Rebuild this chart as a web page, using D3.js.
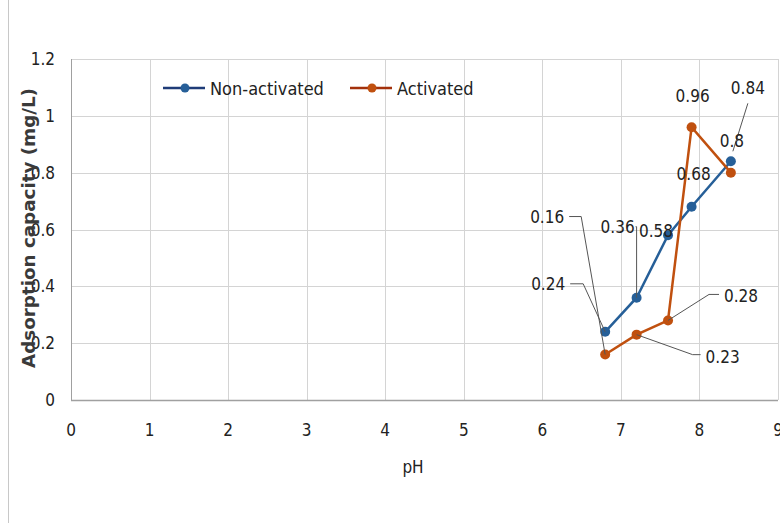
<!DOCTYPE html>
<html>
<head>
<meta charset="UTF-8">
<script src="https://cdn.jsdelivr.net/npm/d3@7"></script>
<style>
  body { margin: 0; background: #fff; }
  text { font-family: "DejaVu Sans Condensed", "DejaVu Sans", sans-serif; fill: #222; }
</style>
</head>
<body>
<script>
// pH values and adsorption capacities
var phValues = [6.8, 7.2, 7.6, 7.9, 8.4];
var nonActivated = [0.24, 0.36, 0.58, 0.68, 0.84];
var activated = [0.16, 0.23, 0.28, 0.96, 0.80];
var xTicks = [0, 1, 2, 3, 4, 5, 6, 7, 8, 9];
var yTicks = [0, 0.2, 0.4, 0.6, 0.8, 1, 1.2];

var width = 780, height = 523;
var svg = d3.select("body").append("svg")
    .attr("width", width).attr("height", height);

var x = d3.scaleLinear().domain([0, 9]).range([71, 778]);
var y = d3.scaleLinear().domain([0, 1.2]).range([400, 59]);

// outer frame line on the left
svg.append("line").attr("x1", 8.5).attr("x2", 8.5).attr("y1", 0).attr("y2", height)
    .attr("stroke", "#c8c8c8");

// grid
svg.selectAll(".gx").data(xTicks).enter().append("line")
    .attr("x1", function(d){ return Math.round(x(d)) + 0.5; })
    .attr("x2", function(d){ return Math.round(x(d)) + 0.5; })
    .attr("y1", y(1.2)).attr("y2", y(0))
    .attr("stroke", "#d4d4d4");
svg.selectAll(".gy").data(yTicks).enter().append("line")
    .attr("x1", x(0)).attr("x2", x(9))
    .attr("y1", function(d){ return Math.round(y(d)) + 0.5; })
    .attr("y2", function(d){ return Math.round(y(d)) + 0.5; })
    .attr("stroke", "#d4d4d4");

// axis lines
svg.append("line").attr("x1", x(0)).attr("x2", x(9)).attr("y1", y(0) + 0.5).attr("y2", y(0) + 0.5)
    .attr("stroke", "#a0a0a0").attr("stroke-width", 1.5);
svg.append("line").attr("x1", x(0) + 0.5).attr("x2", x(0) + 0.5).attr("y1", y(1.2)).attr("y2", y(0))
    .attr("stroke", "#a0a0a0");

// tick labels
svg.selectAll(".tx").data(xTicks).enter().append("text")
    .attr("x", function(d){ return x(d); }).attr("y", 436)
    .attr("text-anchor", "middle").style("font-size", "17px")
    .text(function(d){ return d; });
svg.selectAll(".ty").data(yTicks).enter().append("text")
    .attr("x", 55).attr("y", function(d){ return y(d) + 6; })
    .attr("text-anchor", "end").style("font-size", "17px")
    .text(function(d){ return d; });

// axis titles
svg.append("text").attr("x", 413).attr("y", 473).attr("text-anchor", "middle")
    .style("font-size", "17px").text("pH");
svg.append("text").attr("transform", "translate(35,228) rotate(-90)")
    .attr("text-anchor", "middle").style("font-size", "18px").attr("font-weight", "bold")
    .attr("textLength", 280).attr("lengthAdjust", "spacingAndGlyphs")
    .style("fill", "#3a3a3a").text("Adsorption capacity (mg/L)");

var series = [
    {name: "Non-activated", values: nonActivated, color: "#265f98", legend: "#1f3c78", lx: 163},
    {name: "Activated", values: activated, color: "#c0500f", legend: "#a3310b", lx: 350}
];

var line = d3.line()
    .x(function(d){ return x(d[0]); })
    .y(function(d){ return y(d[1]); });

series.forEach(function(s){
    var pts = d3.zip(phValues, s.values);
    svg.append("path").datum(pts).attr("d", line)
        .attr("fill", "none").attr("stroke", s.color).attr("stroke-width", 2.5);
    svg.selectAll(null).data(pts).enter().append("circle")
        .attr("cx", function(d){ return x(d[0]); })
        .attr("cy", function(d){ return y(d[1]); })
        .attr("r", 5).attr("fill", s.color);
    // legend
    var g = svg.append("g");
    g.append("line").attr("x1", s.lx).attr("x2", s.lx + 42).attr("y1", 88).attr("y2", 88)
        .attr("stroke", s.legend).attr("stroke-width", 2.5);
    g.append("circle").attr("cx", s.lx + 22).attr("cy", 88).attr("r", 4.5).attr("fill", s.color);
    g.append("text").attr("x", s.lx + 47).attr("y", 94.5).style("font-size", "18px").text(s.name);
});

// data labels: offsets in pixels from the point, optional leader path
var labelPos = [
    // non-activated
    {s: 0, i: 0, dx: -57, dy: -48, leader: [[-35, -48], [-22, -48], [0, 0]]},
    {s: 0, i: 1, dx: -19, dy: -71, leader: [[-1, -71], [0, -71], [0, 0]]},
    {s: 0, i: 2, dx: -12, dy: -4, leader: null},
    {s: 0, i: 3, dx: 2, dy: -33, leader: null},
    {s: 0, i: 4, dx: 17, dy: -73, leader: [[17, -58], [2, -10]]},
    // activated
    {s: 1, i: 0, dx: -58, dy: -138, leader: [[-36, -138], [-24, -138], [0, 0]]},
    {s: 1, i: 1, dx: 86, dy: 22, leader: [[64, 20], [56, 20], [0, 0]]},
    {s: 1, i: 2, dx: 73, dy: -24, leader: [[51, -26], [41, -26], [0, 0]]},
    {s: 1, i: 3, dx: 1, dy: -31, leader: null},
    {s: 1, i: 4, dx: 1, dy: -32, leader: null}
];

labelPos.forEach(function(p){
    var vals = p.s === 0 ? nonActivated : activated;
    var px = x(phValues[p.i]), py = y(vals[p.i]);
    if (p.leader) {
        svg.append("path")
            .attr("d", d3.line()(p.leader.map(function(q){ return [px + q[0], py + q[1]]; })))
            .attr("fill", "none").attr("stroke", "#555").attr("stroke-width", 1);
    }
    svg.append("text").attr("x", px + p.dx).attr("y", py + p.dy + 6)
        .attr("text-anchor", "middle").style("font-size", "17px")
        .text(vals[p.i]);
});
</script>
</body>
</html>
